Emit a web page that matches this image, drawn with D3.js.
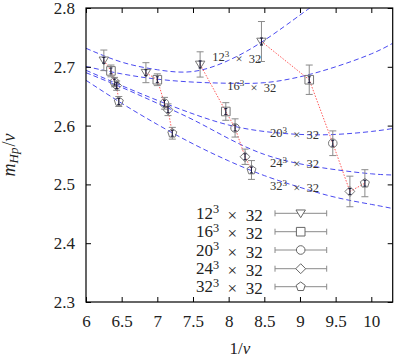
<!DOCTYPE html>
<html>
<head>
<meta charset="utf-8">
<script src="https://cdn.jsdelivr.net/npm/d3@7"></script>
<style>
  html, body { margin: 0; padding: 0; background: #fff; }
  svg { display: block; }
</style>
</head>
<body>
<div id="chart"></div>
<script>
// ---------------- data ----------------
const volumes = ["12", "16", "20", "24", "32"];
const timeExtent = "32";
const symbolsKind = ["triangleDown", "square", "circle", "diamond", "pentagon"];

// measured points (1/v, m_Hp/v, error)
const x12 = [6.25, 6.84, 7.60, 8.46];
const y12 = [2.711, 2.690, 2.704, 2.743];
const e12 = [0.0175, 0.017, 0.0215, 0.034];

const x16 = [6.35, 7.00, 7.96, 9.13];
const y16 = [2.693, 2.678, 2.624, 2.678];
const e16 = [0.010, 0.010, 0.015, 0.025];

const x20 = [6.40, 7.10, 8.09, 9.46];
const y20 = [2.674, 2.638, 2.596, 2.570];
const e20 = [0.008, 0.010, 0.0155, 0.021];

const x24 = [6.43, 7.15, 8.23, 9.70];
const y24 = [2.668, 2.627, 2.547, 2.488];
const e24 = [0.008, 0.010, 0.013, 0.026];

const x32 = [6.46, 7.21, 8.32, 9.91];
const y32 = [2.641, 2.587, 2.5245, 2.502];
const e32 = [0.0085, 0.010, 0.016, 0.023];

// small (statistical) error parts
const s12 = [0.005, 0.005, 0.006, 0.006];
const s16 = [0.005, 0.005, 0.005, 0.005];
const s20 = [0.005, 0.005, 0.005, 0.005];
const s24 = [0.005, 0.005, 0.005, 0.005];
const s32 = [0.005, 0.005, 0.005, 0.005];

// fitted curves
const fitX12 = [6, 6.5, 7, 7.5, 8, 8.5, 9, 9.14];
const fit12  = [2.7315, 2.708, 2.695, 2.692, 2.711, 2.745, 2.788, 2.80];
const fitX   = [6, 6.5, 7, 7.5, 8, 8.5, 9, 9.5, 10, 10.3];
const fit16  = [2.7005, 2.688, 2.679, 2.674, 2.672, 2.673, 2.683, 2.700, 2.722, 2.740];
const fit20  = [2.694, 2.668, 2.643, 2.620, 2.601, 2.590, 2.585, 2.585, 2.590, 2.595];
const fit24  = [2.690, 2.665, 2.638, 2.610, 2.578, 2.551, 2.535, 2.525, 2.518, 2.516];
const fit32  = [2.677, 2.638, 2.602, 2.569, 2.540, 2.515, 2.495, 2.478, 2.466, 2.459];

const xTicks = [6, 6.5, 7, 7.5, 8, 8.5, 9, 9.5, 10];
const yTicks = [2.3, 2.4, 2.5, 2.6, 2.7, 2.8];

// ---------------- layout ----------------
const FONT = "'Liberation Serif', 'Times New Roman', serif";
const W = 406, H = 359;
const L = 86, R = 392.7, T = 8, B = 302;

const series = [
  {xs: x12, ys: y12, es: e12, ss: s12, fx: fitX12, fy: fit12},
  {xs: x16, ys: y16, es: e16, ss: s16, fx: fitX, fy: fit16},
  {xs: x20, ys: y20, es: e20, ss: s20, fx: fitX, fy: fit20},
  {xs: x24, ys: y24, es: e24, ss: s24, fx: fitX, fy: fit24},
  {xs: x32, ys: y32, es: e32, ss: s32, fx: fitX, fy: fit32}
];
// curve label anchor (left start, data coords)
const curveLabelPos = [[7.77, 2.7165], [7.98, 2.667], [8.58, 2.587], [8.58, 2.537], [8.58, 2.497]];

const x = d3.scaleLinear().domain([6, 10.3]).range([L, R]);
const y = d3.scaleLinear().domain([2.3, 2.8]).range([B, T]);

const svg = d3.select("#chart").append("svg").attr("width", W).attr("height", H)
  .style("font-family", FONT);

svg.append("clipPath").attr("id", "clip").append("rect")
  .attr("x", L).attr("y", T).attr("width", R - L).attr("height", B - T);

// symbol path generator
function symPath(kind, r) {
  if (kind === "triangleDown") {
    const h = r * 1.7;
    return `M${-r * 1.1},${-h/2.2}L${r * 1.1},${-h/2.2}L0,${h*0.6}Z`;
  }
  if (kind === "square") return `M${-r},${-r}H${r}V${r}H${-r}Z`;
  if (kind === "circle") return d3.symbol(d3.symbolCircle, Math.PI * r * r)();
  if (kind === "diamond") { const d = r * 1.15; return `M0,${-d}L${d},0L0,${d}L${-d},0Z`; }
  if (kind === "pentagon") {
    const pts = d3.range(5).map(i => {
      const a = -Math.PI / 2 + i * 2 * Math.PI / 5;
      return [r * 1.1 * Math.cos(a), r * 1.1 * Math.sin(a)];
    });
    return "M" + pts.map(p => p.join(",")).join("L") + "Z";
  }
}

const gPlot = svg.append("g").attr("clip-path", "url(#clip)");

// fitted curves
const line = d3.line().x(d => x(d[0])).y(d => y(d[1])).curve(d3.curveNatural);
series.forEach(s => {
  gPlot.append("path")
    .attr("d", line(s.fx.map((v, i) => [v, s.fy[i]])))
    .attr("fill", "none").attr("stroke", "#4a4af0").attr("stroke-width", 1)
    .attr("stroke-dasharray", "5,3");
});

// red dotted connections across volumes (same coupling)
const nSets = x12.length;
for (let k = 0; k < nSets; k++) {
  const pts = series.map(s => [s.xs[k], s.ys[k]]);
  gPlot.append("path")
    .attr("d", d3.line().x(d => x(d[0])).y(d => y(d[1]))(pts))
    .attr("fill", "none").attr("stroke", "#ff5a5a").attr("stroke-width", 1)
    .attr("stroke-dasharray", "1.5,1.5");
}

// error bars + symbols
const cap = 3.5;
series.forEach((s, si) => {
  s.xs.forEach((xv, i) => {
    const cx = x(xv), y0 = y(s.ys[i] - s.es[i]), y1 = y(s.ys[i] + s.es[i]);
    const g = gPlot.append("g").attr("stroke", "#8a8a8a").attr("stroke-width", 1).attr("fill", "none");
    g.append("line").attr("x1", cx).attr("x2", cx).attr("y1", y0).attr("y2", y1);
    g.append("line").attr("x1", cx - cap).attr("x2", cx + cap).attr("y1", y0).attr("y2", y0);
    g.append("line").attr("x1", cx - cap).attr("x2", cx + cap).attr("y1", y1).attr("y2", y1);
    g.append("path").attr("d", symPath(symbolsKind[si], 4.3))
      .attr("transform", `translate(${cx},${y(s.ys[i])})`).attr("stroke", "#777");
    // inner dark error
    const z0 = y(s.ys[i] - s.ss[i]), z1 = y(s.ys[i] + s.ss[i]);
    const g2 = gPlot.append("g").attr("stroke", "#1a1a3a").attr("stroke-width", 1);
    g2.append("line").attr("x1", cx).attr("x2", cx).attr("y1", z0).attr("y2", z1);
    g2.append("line").attr("x1", cx - 1.5).attr("x2", cx + 1.5).attr("y1", z0).attr("y2", z0);
    g2.append("line").attr("x1", cx - 1.5).attr("x2", cx + 1.5).attr("y1", z1).attr("y2", z1);
  });
});

// curve labels
function volLabel(sel, vol) {
  sel.append("tspan").text(vol);
  sel.append("tspan").attr("dy", "-0.45em").attr("font-size", "0.72em").text("3");
  sel.append("tspan").attr("dy", "0.45em").attr("dx", "0.5em").text("×");
  sel.append("tspan").attr("dx", "0.5em").text(timeExtent);
}
volumes.forEach((v, i) => {
  const t = svg.append("text")
    .attr("x", x(curveLabelPos[i][0])).attr("y", y(curveLabelPos[i][1]) + 4)
    .attr("font-size", 12.5).style("font-family", FONT).attr("fill", "#333");
  volLabel(t, v);
});

// frame
svg.append("rect").attr("x", L).attr("y", T).attr("width", R - L).attr("height", B - T)
  .attr("fill", "none").attr("stroke", "#000").attr("stroke-width", 1.2);

// axes
const fmtX = d => (Math.abs(d - Math.round(d)) < 1e-9 ? d3.format("d")(d) : d3.format(".1f")(d));
const axB = svg.append("g").attr("transform", `translate(0,${B})`)
  .call(d3.axisBottom(x).tickValues(xTicks).tickFormat(fmtX).tickSizeInner(-5).tickSizeOuter(0).tickPadding(12.5));
const axT = svg.append("g").attr("transform", `translate(0,${T})`)
  .call(d3.axisTop(x).tickValues(xTicks).tickFormat("").tickSizeInner(-5).tickSizeOuter(0));
const axL = svg.append("g").attr("transform", `translate(${L},0)`)
  .call(d3.axisLeft(y).tickValues(yTicks).tickFormat(d3.format(".1f")).tickSizeInner(-5).tickSizeOuter(0).tickPadding(11));
const axR = svg.append("g").attr("transform", `translate(${R},0)`)
  .call(d3.axisRight(y).tickValues(yTicks).tickFormat("").tickSizeInner(-5).tickSizeOuter(0));
[axB, axT, axL, axR].forEach(a => {
  a.attr("font-family", null).attr("font-size", null);
  a.select(".domain").remove();
  a.selectAll(".tick line").attr("stroke", "#000");
  a.selectAll("text").attr("font-size", 17).style("font-family", FONT).attr("fill", "#222");
});

// axis titles
const xt = svg.append("text").attr("x", 240).attr("y", 354).attr("text-anchor", "middle")
  .attr("font-size", 17).style("font-family", FONT).attr("fill", "#222");
xt.append("tspan").text("1/");
xt.append("tspan").attr("font-style", "italic").text("v");

const yt = svg.append("text").attr("transform", "translate(15,155) rotate(-90)")
  .attr("text-anchor", "middle").attr("font-size", 18).style("font-family", FONT).attr("fill", "#222");
yt.append("tspan").attr("font-style", "italic").text("m");
yt.append("tspan").attr("font-style", "italic").attr("font-size", 13).attr("dy", 3).text("Hp");
yt.append("tspan").attr("dy", -3).attr("dx", 1).text("/");
yt.append("tspan").attr("font-style", "italic").text("v");

// legend
const legRows = [213.3, 231.7, 250, 268.7, 286.7];
volumes.forEach((v, i) => {
  const cy = legRows[i];
  const t = svg.append("text").attr("x", 262.7).attr("y", cy + 5.5).attr("text-anchor", "end")
    .attr("font-size", 17).style("font-family", FONT).attr("fill", "#222");
  volLabel(t, v);
  const g = svg.append("g").attr("stroke", "#8a8a8a").attr("fill", "none").attr("stroke-width", 1);
  g.append("line").attr("x1", 275).attr("x2", 326.7).attr("y1", cy).attr("y2", cy);
  g.append("line").attr("x1", 275).attr("x2", 275).attr("y1", cy - 3).attr("y2", cy + 3);
  g.append("line").attr("x1", 326.7).attr("x2", 326.7).attr("y1", cy - 3).attr("y2", cy + 3);
  g.append("path").attr("d", symPath(symbolsKind[i], 4.3)).attr("transform", `translate(300.7,${cy})`)
    .attr("stroke", "#666").attr("fill", "#fff");
});
</script>
</body>
</html>
